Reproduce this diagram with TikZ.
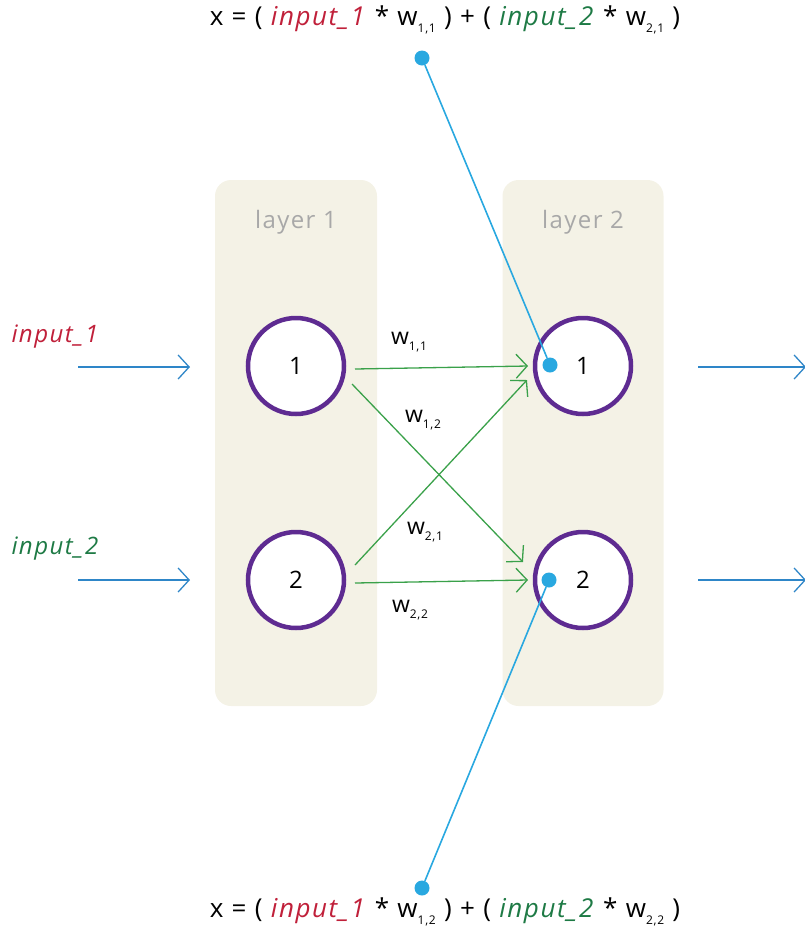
\documentclass[tikz,border=0pt]{standalone}
\usepackage{fontspec}
\setmainfont{Open Sans}[LetterSpace=6]
\usetikzlibrary{arrows.meta}
\definecolor{inred}{HTML}{C0203A}
\definecolor{ingreen}{HTML}{1E7A45}
\definecolor{linkblue}{HTML}{29A8E0}
\definecolor{arrblue}{HTML}{2E86C8}
\definecolor{wgreen}{HTML}{3AA14A}
\definecolor{beige}{HTML}{F4F2E6}
\definecolor{purp}{HTML}{5E2B91}
\definecolor{greytxt}{HTML}{A8A8A8}
\newcommand{\wsb}[1]{w\raisebox{-0.45ex}{\fontsize{12}{12}\selectfont #1}}
\newcommand{\inA}{\textcolor{inred}{\textit{input\_1}}}
\newcommand{\inB}{\textcolor{ingreen}{\textit{input\_2}}}
\begin{document}
\begin{tikzpicture}[x=1pt,y=-1pt,
  every node/.style={font=\fontsize{24}{28}\selectfont},
  eqstyle/.style={font=\fontsize{26}{30}\selectfont},
  layerbox/.style={fill=beige,draw=none,rounded corners=16pt},
  neuron/.style={circle,draw=purp,line width=4.5pt,fill=white,minimum size=96pt,inner sep=0pt},
  inarrow/.style={draw=arrblue,line width=1.3pt,-{Straight Barb[length=11pt,width=24pt,line width=1.3pt]}},
  warrow/.style={draw=wgreen,line width=1.3pt,-{Straight Barb[length=11pt,width=24pt,line width=1.3pt]}},
  link/.style={draw=linkblue,line width=1.6pt},
  dot/.style={circle,fill=linkblue,inner sep=0pt,minimum size=15pt},
  wlabel/.style={font=\fontsize{23}{26}\selectfont}]
\useasboundingbox (0,0) rectangle (805,930);
% layers
\node[layerbox,minimum width=162pt,minimum height=526pt] (L1) at (296,443) {};
\node[layerbox,minimum width=161pt,minimum height=526pt] (L2) at (583,443) {};
\node[text=greytxt] (L1t) at (296,222) {layer 1};
\node[text=greytxt] (L2t) at (583,222) {layer 2};
% neurons
\node[neuron] (a1) at (296,366) {1};
\node[neuron] (a2) at (296,580) {2};
\node[neuron] (b1) at (583,366) {};
\node[neuron] (b2) at (583,580) {};
\node (b1t) at (583,366) {1};
\node (b2t) at (583,580) {2};
% inputs
\node[anchor=west] (i1) at (8,337) {\inA};
\node[anchor=west] (i2) at (8,549) {\inB};
\coordinate (i1s) at (78,367);
\coordinate (i1e) at (190,367);
\coordinate (i2s) at (78,580);
\coordinate (i2e) at (190,580);
\draw[inarrow] (i1s) -- (i1e);
\draw[inarrow] (i2s) -- (i2e);
% outputs
\coordinate (o1s) at (698,367);
\coordinate (o1e) at (806,367);
\coordinate (o2s) at (698,580);
\coordinate (o2e) at (806,580);
\draw[inarrow] (o1s) -- (o1e);
\draw[inarrow] (o2s) -- (o2e);
% weights
\coordinate (s11) at (355,369);
\coordinate (e11) at (528,366);
\coordinate (s12) at (352,384);
\coordinate (e12) at (523,562);
\coordinate (s21) at (355,565);
\coordinate (e21) at (527,380);
\coordinate (s22) at (355,583);
\coordinate (e22) at (528,580);
\draw[warrow] (s11) -- (e11);
\draw[warrow] (s12) -- (e12);
\draw[warrow] (s21) -- (e21);
\draw[warrow] (s22) -- (e22);
\node[wlabel] (w11) at (409,342) {\wsb{1,1}};
\node[wlabel] (w12) at (423,420) {\wsb{1,2}};
\node[wlabel] (w21) at (425,532) {\wsb{2,1}};
\node[wlabel] (w22) at (410,610) {\wsb{2,2}};
% equations
\node[eqstyle] (eqt) at (445,20) {x = ( \inA{} * \wsb{1,1} ) + ( \inB{} * \wsb{2,1} )};
\node[eqstyle] (eqb) at (445,912) {x = ( \inA{} * \wsb{1,2} ) + ( \inB{} * \wsb{2,2} )};
\node[dot] (dt) at (422,58) {};
\node[dot] (d1) at (550,365) {};
\node[dot] (d2) at (549,580) {};
\node[dot] (db) at (422,888) {};
\draw[link] (dt) -- (d1);
\draw[link] (d2) -- (db);
\end{tikzpicture}
\end{document}
